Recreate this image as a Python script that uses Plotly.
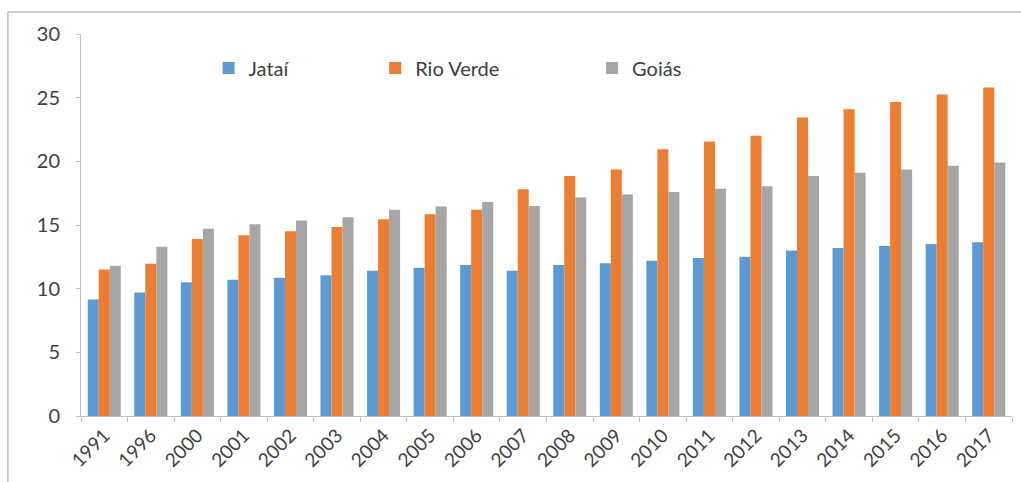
import plotly.graph_objects as go

years = ["1991", "1996", "2000", "2001", "2002", "2003", "2004", "2005", "2006", "2007",
         "2008", "2009", "2010", "2011", "2012", "2013", "2014", "2015", "2016", "2017"]
jatai = [9.15, 9.7, 10.5, 10.7, 10.85, 11.05, 11.4, 11.65, 11.85, 11.4,
         11.85, 12.0, 12.2, 12.4, 12.5, 13.0, 13.2, 13.35, 13.5, 13.65]
rio_verde = [11.5, 11.95, 13.9, 14.2, 14.5, 14.85, 15.45, 15.85, 16.2, 17.8,
             18.85, 19.35, 20.95, 21.55, 22.0, 23.45, 24.1, 24.65, 25.25, 25.8]
goias = [11.8, 13.3, 14.7, 15.05, 15.35, 15.6, 16.2, 16.45, 16.8, 16.5,
         17.15, 17.4, 17.6, 17.85, 18.05, 18.85, 19.1, 19.35, 19.65, 19.9]

names = ["Jataí", "Rio Verde", "Goiás"]
colors = ["#5B9BD5", "#ED7D31", "#A5A5A5"]
series = [jatai, rio_verde, goias]
legend_ids = ["legend", "legend2", "legend3"]

fig = go.Figure()
for name, vals, col, lg in zip(names, series, colors, legend_ids):
    fig.add_trace(go.Bar(x=years, y=vals, name=name, marker_color=col,
                         marker_line_width=0, legend=lg))

font_family = "Lato, 'Open Sans', sans-serif"
text_col = "#404040"

def leg(x):
    return dict(x=x, y=0.911, xanchor="left", yanchor="middle", orientation="h",
                bgcolor="rgba(0,0,0,0)", font=dict(size=20, color=text_col, family=font_family),
                itemclick=False)

fig.update_layout(
    width=1021, height=482,
    margin=dict(l=81, r=9, t=34, b=66),
    paper_bgcolor="white", plot_bgcolor="white",
    barmode="group", bargap=0.29, bargroupgap=0,
    font=dict(family=font_family, color=text_col),
    showlegend=True,
    legend=leg(0.137),
    legend2=leg(0.316),
    legend3=leg(0.549),
    xaxis=dict(
        showline=True, linecolor="#BFBFBF", linewidth=1,
        ticks="outside", tickson="boundaries", ticklen=5, tickcolor="#BFBFBF",
        tickangle=-45, tickfont=dict(size=19, color=text_col), showgrid=False,
    ),
    yaxis=dict(
        range=[0, 30], dtick=5, showline=True, linecolor="#BFBFBF", linewidth=1,
        ticks="outside", ticklen=4, tickcolor="#BFBFBF", showgrid=False, zeroline=False,
        tickfont=dict(size=20, color=text_col), ticklabelstandoff=12,
    ),
    shapes=[
        dict(type="line", xref="paper", yref="paper", x0=-0.0785, x1=1.0097, y0=1.0576, y1=1.0576,
             line=dict(color="#BDBDBD", width=1.5)),
        dict(type="line", xref="paper", yref="paper", x0=-0.0785, x1=-0.0785, y0=1.0576, y1=-0.18,
             line=dict(color="#BDBDBD", width=1.5)),
    ],
)

fig.write_html("out.html")
